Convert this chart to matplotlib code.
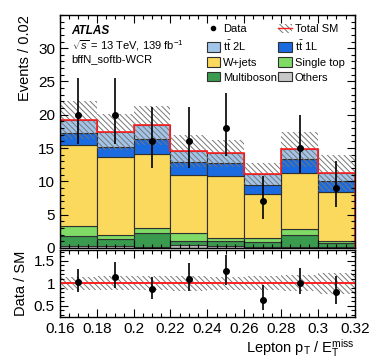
import numpy as np
import matplotlib
matplotlib.use('Agg')
import matplotlib.pyplot as plt
from matplotlib.patches import Patch
from matplotlib.lines import Line2D
from matplotlib.ticker import MultipleLocator

plt.rcParams['font.family'] = ['Liberation Sans', 'DejaVu Sans']
plt.rcParams['mathtext.fontset'] = 'custom'
plt.rcParams['mathtext.rm'] = 'Liberation Sans'
plt.rcParams['mathtext.it'] = 'Liberation Sans:italic'
plt.rcParams['mathtext.bf'] = 'Liberation Sans:bold'
plt.rcParams['hatch.linewidth'] = 0.7

''' ========== data (read from the reference) ========== '''
bin_edges = [0.16, 0.18, 0.20, 0.22, 0.24, 0.26, 0.28, 0.30, 0.32]

others = [0.3, 0.3, 0.2, 0.4, 0.3, 0.2, 0.2, 0.2]
multiboson = [1.55, 1.0, 2.1, 0.7, 0.8, 0.75, 1.8, 0.5]
single_top = [1.45, 0.7, 0.7, 1.2, 0.4, 0.5, 0.9, 0.4]
wjets = [12.2, 11.7, 11.1, 8.7, 9.3, 6.6, 8.3, 7.3]
ttbar_1l = [1.8, 1.5, 2.2, 1.9, 1.9, 1.45, 2.2, 1.6]
ttbar_2l = [1.95, 2.2, 2.1, 1.6, 1.5, 1.6, 1.4, 1.3]
sm_unc = [2.85, 2.7, 2.9, 2.4, 2.0, 1.7, 2.6, 2.7]

data = [20, 20, 16, 16, 18, 7, 15, 9]
data_err_up = [5.5, 5.5, 5.1, 5.1, 5.3, 3.8, 5.0, 4.1]
data_err_dn = [4.4, 4.4, 4.0, 4.0, 4.2, 2.6, 3.8, 2.9]

samples = [
    ('Others', others, '#c8c8c8'),
    ('Multiboson', multiboson, '#3a9b4f'),
    ('Single top', single_top, '#80db66'),
    ('W+jets', wjets, '#fbd95c'),
    (r'$\mathrm{t\bar{t}}$ 1L', ttbar_1l, '#1a6be0'),
    (r'$\mathrm{t\bar{t}}$ 2L', ttbar_2l, '#a3c5ea'),
]

HATCH = '\\' * 6
HATCH_COL = '#777777'

edges = np.array(bin_edges)
centers = 0.5 * (edges[1:] + edges[:-1])
widths = edges[1:] - edges[:-1]

fig = plt.figure(figsize=(3.74, 3.63), dpi=100)
ax = fig.add_axes([0.160, 0.317, 0.789, 0.642])
ax_r = fig.add_axes([0.160, 0.127, 0.789, 0.185], sharex=ax)

''' main panel - stacked backgrounds '''
bottom = np.zeros(len(centers))
handles = {}
for name, vals, col in samples:
    vals = np.array(vals)
    ax.bar(edges[:-1], vals, width=widths, bottom=bottom, align='edge',
           color=col, edgecolor='#303030', linewidth=0.8)
    handles[name] = Patch(facecolor=col, edgecolor='#303030', linewidth=0.8)
    bottom = bottom + vals
total = bottom

unc = np.array(sm_unc)
ax.bar(edges[:-1], 2 * unc, width=widths, bottom=total - unc, align='edge',
       facecolor='none', edgecolor=HATCH_COL, hatch=HATCH, linewidth=0)
ax.stairs(total, edges, color='#ff2020', linewidth=1.2)

data = np.array(data)
ax.errorbar(centers, data, yerr=[data_err_dn, data_err_up], fmt='o', color='black',
            markersize=4, elinewidth=1.2, capsize=0)

ax.set_xlim(0.16, 0.32)
ax.set_ylim(0, 35)
ax.set_ylabel('Events / 0.02', fontsize=10.5, loc='top')
ax.yaxis.set_minor_locator(MultipleLocator(1))
ax.set_yticks([0, 5, 10, 15, 20, 25, 30])
plt.setp(ax.get_xticklabels(), visible=False)

ax.text(0.04, 0.955, 'ATLAS', transform=ax.transAxes, fontsize=8.5,
        fontweight='bold', fontstyle='italic', va='top')
ax.text(0.04, 0.898, r'$\sqrt{s}$ = 13 TeV, 139 fb$^{-1}$', transform=ax.transAxes,
        fontsize=8, va='top')
ax.text(0.04, 0.832, 'bffN_softb-WCR', transform=ax.transAxes, fontsize=8, va='top')

''' legend '''
data_h = Line2D([], [], marker='o', color='black', linestyle='none', markersize=3)
sm_h = (Patch(facecolor='white', edgecolor=HATCH_COL, hatch=HATCH, linewidth=0),
        Line2D([], [], color='#ff2020', linewidth=1.0))
leg_handles = [data_h, handles[r'$\mathrm{t\bar{t}}$ 2L'], handles['W+jets'], handles['Multiboson'],
               sm_h, handles[r'$\mathrm{t\bar{t}}$ 1L'], handles['Single top'], handles['Others']]
leg_labels = ['Data', r'$\mathrm{t\bar{t}}$ 2L', 'W+jets', 'Multiboson',
              'Total SM', r'$\mathrm{t\bar{t}}$ 1L', 'Single top', 'Others']
ax.legend(leg_handles, leg_labels, ncol=2, loc='upper left', bbox_to_anchor=(0.475, 0.99),
          frameon=False, fontsize=8, handlelength=1.2, handleheight=0.9,
          handletextpad=0.25, columnspacing=0.15, labelspacing=0.4, borderaxespad=0.2)

''' ratio panel '''
ratio = data / total
ratio_up = np.array(data_err_up) / total
ratio_dn = np.array(data_err_dn) / total
rel_unc = unc / total
ax_r.bar(edges[:-1], 2 * rel_unc, width=widths, bottom=1 - rel_unc, align='edge',
         facecolor='none', edgecolor=HATCH_COL, hatch=HATCH, linewidth=0)
ax_r.axhline(1, color='#ff2020', linewidth=1.4)
ax_r.errorbar(centers, ratio, yerr=[ratio_dn, ratio_up], fmt='o', color='black',
              markersize=4, elinewidth=1.2, capsize=0)
ax_r.set_ylim(0.25, 1.75)
ax_r.set_yticks([0.5, 1, 1.5])
ax_r.set_yticklabels(['0.5', '1', '1.5'])
ax_r.yaxis.set_minor_locator(MultipleLocator(0.1))
ax_r.set_ylabel('Data / SM', fontsize=10.5)
ax_r.set_xticks([0.16, 0.18, 0.20, 0.22, 0.24, 0.26, 0.28, 0.30, 0.32])
ax_r.set_xticklabels(['0.16', '0.18', '0.2', '0.22', '0.24', '0.26', '0.28', '0.3', '0.32'])
ax_r.xaxis.set_minor_locator(MultipleLocator(0.005))
ax_r.set_xlabel(r'Lepton p$_{\mathrm{T}}$ / E$_{\mathrm{T}}^{\mathrm{miss}}$', fontsize=10.5,
                loc='right', labelpad=1)

for a in [ax, ax_r]:
    a.tick_params(which='both', direction='in', top=True, right=True, labelsize=11)
    a.tick_params(which='major', length=6, width=0.8)
    a.tick_params(which='minor', length=3, width=0.8)
    for s in a.spines.values():
        s.set_linewidth(1.0)

fig.align_ylabels([ax, ax_r])
fig.savefig('out.png', dpi=100)
